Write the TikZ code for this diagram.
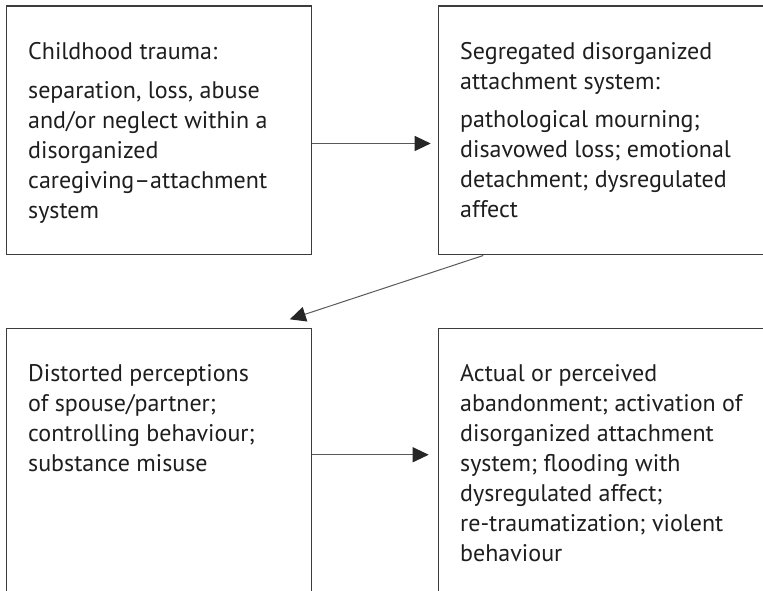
\documentclass[tikz,border=0pt]{standalone}
\usepackage{fontspec}
\setmainfont{PT Sans}
\usetikzlibrary{arrows.meta}
\definecolor{boxline}{HTML}{3C3C3C}
\definecolor{arrline}{HTML}{5A5A5A}
\definecolor{txt}{HTML}{1E1E1E}
\tikzset{
  stagebox/.style={draw=boxline, line width=1.5pt, rectangle, inner sep=0pt, anchor=north west},
  stagetext/.style={anchor=base west, inner sep=0pt, text=txt},
  flow/.style={draw=arrline, line width=1pt, -{Triangle[length=16pt,width=15pt,fill=black!85,color=black!85]}},
}
\newcommand{\boxtext}[1]{\parbox[t]{330pt}{\fontsize{24}{30}\selectfont\raggedright #1}}
\begin{document}
\begin{tikzpicture}[x=1pt,y=1pt]
\clip (0,0) rectangle (763,591);
\fill[white] (0,0) rectangle (763,591);
% boxes
\node[stagebox, minimum width=305pt, minimum height=248.5pt] (b1) at (5.7,585.5) {};
\node[stagebox, minimum width=340pt, minimum height=248.5pt] (b2) at (437.7,585.5) {};
\node[stagebox, minimum width=305pt, minimum height=280pt] (b3) at (5.7,263) {};
\node[stagebox, minimum width=340pt, minimum height=280pt] (b4) at (437.7,263) {};
% texts
\node[stagetext] (t1) at (28,531) {\boxtext{Childhood trauma:\\[8.5pt]separation, loss, abuse\\and/or neglect within a\\disorganized\\caregiving–attachment\\system}};
\node[stagetext] (t2) at (460,531.5) {\boxtext{Segregated disorganized\\attachment system:\\[8pt]pathological mourning;\\disavowed loss; emotional\\detachment; dysregulated\\affect}};
\node[stagetext] (t3) at (28,209.3) {\boxtext{Distorted perceptions\\of spouse/partner;\\controlling behaviour;\\substance misuse}};
\node[stagetext] (t4) at (460,209.3) {\boxtext{Actual or perceived\\abandonment; activation of\\disorganized attachment\\system; flooding with\\dysregulated affect;\\re-traumatization; violent\\behaviour}};
% connectors
\draw[flow, shorten >=7pt] ([yshift=-13pt]b1.east) -- ([yshift=-13pt]b2.west);
\draw[flow, shorten >=9pt] ([yshift=14pt]b3.east) -- ([yshift=14pt]b4.west);
\draw[flow] ([xshift=45.6pt]b2.south west) -- ([xshift=-22.4pt,yshift=8.7pt]b3.north east);
\end{tikzpicture}
\end{document}
